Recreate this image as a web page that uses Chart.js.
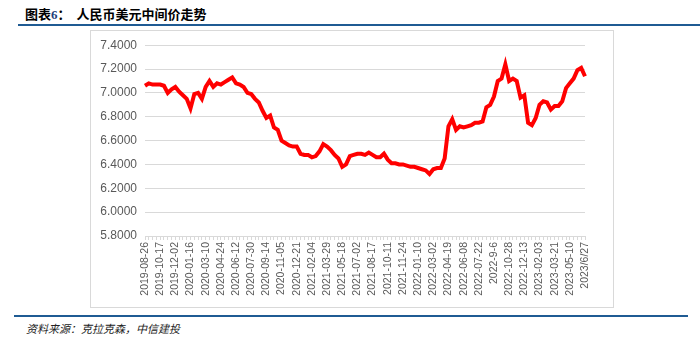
<!DOCTYPE html>
<html>
<head>
<meta charset="utf-8">
<script src="https://cdn.jsdelivr.net/npm/chart.js@4/dist/chart.umd.min.js"></script>
<style>
  html, body { margin: 0; padding: 0; background: #fff; }
  body { width: 700px; height: 342px; position: relative; overflow: hidden; font-family: "Noto Sans CJK SC", "Liberation Sans", sans-serif; }
  #title { position: absolute; left: 25px; top: 4px; font-size: 13px; font-weight: bold; color: #000; white-space: pre; }
  #title .num { color: #1f3f7a; font-family: "Liberation Serif", serif; }
  #rule1 { position: absolute; left: 18px; top: 24px; width: 682px; height: 2px; background: #1f5b93; }
  #frame { position: absolute; left: 90px; top: 30px; width: 524px; height: 278px; border: 1px solid #d9d9d9; box-sizing: border-box; }
  #wrap { position: absolute; left: 90px; top: 30px; width: 525px; height: 278px; }
  #rule2 { position: absolute; left: 14px; top: 315px; width: 674px; height: 2px; background: #1f5b93; }
  #src { position: absolute; left: 26px; top: 320px; font-size: 11px; font-style: italic; color: #222; }
</style>
</head>
<body>
<div id="title">图表<span class="num">6</span>：  人民币美元中间价走势</div>
<div id="rule1"></div>
<div id="frame"></div>
<div id="wrap"><canvas id="c" width="525" height="278"></canvas></div>
<div id="rule2"></div>
<div id="src">资料来源：克拉克森，中信建投</div>
<script>
const tickLabels = ["2019-08-26","2019-10-17","2019-12-02","2020-01-16","2020-03-10","2020-04-24","2020-06-12","2020-07-30","2020-09-14","2020-11-05","2020-12-21","2021-02-04","2021-03-29","2021-05-18","2021-07-02","2021-08-17","2021-10-11","2021-11-24","2022-01-10","2022-03-02","2022-04-19","2022-06-08","2022-07-22","2022-9-6","2022-10-28","2022-12-13","2023-02-03","2023-03-21","2023-05-10","2023/6/27"];
const rateValues = [
  7.06,7.08,7.07,7.07,7.07,7.06,7.00,7.03,7.05,7.01,
  6.98,6.95,6.87,6.99,7.00,6.95,7.05,7.10,7.05,7.08,
  7.07,7.09,7.11,7.13,7.08,7.07,7.05,7.00,6.99,6.95,
  6.92,6.85,6.79,6.81,6.71,6.69,6.60,6.58,6.56,6.55,
  6.55,6.49,6.48,6.48,6.46,6.47,6.51,6.57,6.55,6.52,
  6.48,6.45,6.38,6.40,6.47,6.48,6.49,6.49,6.48,6.50,
  6.48,6.46,6.46,6.49,6.44,6.41,6.41,6.40,6.40,6.39,
  6.38,6.38,6.37,6.36,6.35,6.32,6.36,6.37,6.37,6.45,
  6.72,6.78,6.69,6.72,6.71,6.72,6.73,6.75,6.75,6.76,
  6.88,6.90,6.97,7.10,7.12,7.24,7.10,7.12,7.10,6.96,
  6.98,6.75,6.73,6.79,6.90,6.93,6.92,6.86,6.89,6.89,
  6.93,7.04,7.08,7.12,7.19,7.21,7.14
];
const perLabel = 4;
const categories = rateValues.map((v, i) => (i % perLabel === 0 ? (tickLabels[i / perLabel] || '') : ''));

new Chart(document.getElementById('c'), {
  type: 'line',
  data: {
    labels: categories,
    datasets: [{
      data: rateValues,
      borderColor: '#ff0000',
      borderWidth: 4,
      pointRadius: 0,
      tension: 0,
      fill: false
    }]
  },
  options: {
    responsive: false,
    animation: false,
    plugins: { legend: { display: false }, tooltip: { enabled: false } },
    layout: { padding: { top: 13, right: 30, left: 0, bottom: 0 } },
    scales: {
      x: {
        offset: false,
        grid: { display: true, drawOnChartArea: false, drawTicks: true, tickLength: 4, color: '#d9d9d9' },
        border: { display: true, color: '#d9d9d9' },
        ticks: {
          autoSkip: false, maxRotation: 90, minRotation: 90, padding: 2,
          color: '#595959', font: { family: 'Liberation Sans', size: 10.5 },
          callback: function(v, i) { return categories[i]; }
        },
        afterFit: function(s) { s.height = 72; }
      },
      y: {
        min: 5.8, max: 7.4,
        grid: { color: '#d9d9d9', drawTicks: false },
        border: { display: false },
        ticks: {
          stepSize: 0.2, padding: 8, color: '#595959',
          font: { family: 'Liberation Sans', size: 12 },
          callback: function(v) { return Number(v).toFixed(4); }
        },
        afterFit: function(s) { s.width = 55; }
      }
    }
  }
});
</script>
</body>
</html>
